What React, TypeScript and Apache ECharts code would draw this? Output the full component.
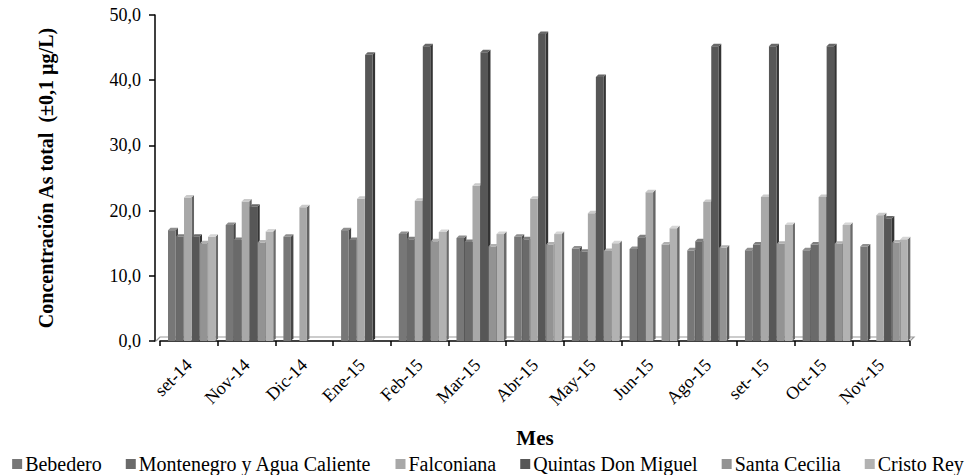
import React, { useEffect, useRef } from "react";
import * as echarts from "echarts";

const categories = ["set-14", "Nov-14", "Dic-14", "Ene-15", "Feb-15", "Mar-15", "Abr-15", "May-15", "Jun-15", "Ago-15", "set- 15", "Oct-15", "Nov-15"];

const seriesNames = ["Bebedero", "Montenegro y Agua Caliente", "Falconiana", "Quintas Don Miguel", "Santa Cecilia", "Cristo Rey"];

const bebedero = [17.0, 17.8, 16.0, 17.0, 16.4, 15.8, 16.0, 14.2, 14.1, 13.9, 13.9, 13.9, 14.5];
const montenegro = [16.0, 15.5, null, 15.5, 15.6, 15.2, 15.6, 13.7, 15.9, 15.3, 14.8, 14.8, null];
const falconiana = [22.0, 21.4, 20.5, 21.8, 21.5, 23.8, 21.8, 19.6, 22.8, 21.3, 22.1, 22.1, 19.3];
const quintas = [16.0, 20.6, null, 43.9, 45.2, 44.3, 47.1, 40.5, null, 45.2, 45.2, 45.2, 18.8];
const santaCecilia = [15.0, 15.1, null, null, 15.3, 14.5, 14.8, 13.8, 14.8, 14.3, 14.9, 14.9, 15.1];
const cristoRey = [16.0, 16.8, null, null, 16.7, 16.4, 16.4, 15.0, 17.3, null, 17.8, 17.8, 15.6];

const seriesValues = [bebedero, montenegro, falconiana, quintas, santaCecilia, cristoRey];
const colors = ["#777777", "#6a6a6a", "#a8a8a8", "#575757", "#939393", "#b2b2b2"];

const FONT = "'Liberation Serif', 'Times New Roman', serif";

function shade(hex: string, k: number) {
  const n = parseInt(hex.slice(1), 16);
  const f = (c: number) => Math.max(0, Math.min(255, Math.round(c * k)));
  const r = f((n >> 16) & 255), g = f((n >> 8) & 255), b = f(n & 255);
  return `rgb(${r},${g},${b})`;
}

export default function App() {
  const ref = useRef<HTMLDivElement>(null);
  useEffect(() => {
    if (!ref.current) return;
    const chart = echarts.init(ref.current, undefined, { renderer: "svg" });
    const nCat = categories.length;

    const barSeries = seriesValues.map((vals, si) => ({
      name: seriesNames[si],
      type: "custom",
      itemStyle: { color: colors[si] },
      z: 3,
      data: vals.map((v, j) => [j, v == null ? "-" : v]),
      renderItem: (params: any, api: any) => {
        const cat = api.value(0);
        const val = api.value(1);
        if (isNaN(val)) return null;
        const top = api.coord([cat, val]);
        const base = api.coord([cat, 0]);
        const bandW = api.size([1, 0])[0];
        const slot = bandW * 0.1387;
        const start = top[0] - bandW / 2 + bandW * 0.139;
        const d = 2.5;
        const x0 = start + si * slot;
        const w = slot - 0.5;
        const y = top[1];
        const b = base[1];
        const c = colors[si];
        return {
          type: "group",
          children: [
            {
              type: "polygon",
              shape: { points: [[x0 + w, y], [x0 + w + d, y - d], [x0 + w + d, b - d], [x0 + w, b]] },
              style: { fill: shade(c, 0.6) },
            },
            {
              type: "rect",
              shape: { x: x0, y: y, width: w, height: b - y },
              style: { fill: c },
            },
            {
              type: "polygon",
              shape: { points: [[x0, y], [x0 + d, y - d], [x0 + w + d, y - d], [x0 + w, y]] },
              style: { fill: shade(c, 1.2) },
            },
          ],
        };
      },
    }));

    const floorSeries = {
      name: "floor",
      type: "custom",
      silent: true,
      z: 1,
      data: [[0, 0]],
      renderItem: (params: any, api: any) => {
        const p = api.coord([0, 0]);
        const bandW = api.size([1, 0])[0];
        const left = p[0] - bandW / 2;
        const right = left + nCat * bandW;
        const b = p[1];
        const d = 4;
        return {
          type: "polyline",
          shape: { points: [[left - 4, b], [left - 4 + d, b - d], [right + d, b - d], [right, b]] },
          style: { stroke: "#9a9a9a", lineWidth: 1.2, fill: null },
        };
      },
    };

    chart.setOption({
      animation: false,
      textStyle: { fontFamily: FONT },
      grid: { left: 160, right: 66, top: 15, bottom: 134 },
      legend: {
        data: seriesNames.map((n, i) => ({ name: n, itemStyle: { color: colors[i] } })),
        icon: "rect",
        itemWidth: 10,
        itemHeight: 10,
        itemGap: 24,
        left: "center",
        bottom: 1,
        padding: 0,
        textStyle: { fontFamily: FONT, fontSize: 20, color: "#000", padding: [0, 0, 0, -2] },
      },
      xAxis: {
        type: "category",
        data: categories,
        name: "Mes",
        nameLocation: "middle",
        nameGap: 86,
        nameTextStyle: { fontFamily: FONT, fontSize: 21, fontWeight: "bold", color: "#000" },
        axisLine: { lineStyle: { color: "#000", width: 1.5 } },
        axisTick: { show: true, length: 5, lineStyle: { color: "#000", width: 1.5 } },
        axisLabel: { rotate: 45, fontSize: 18, color: "#000", fontFamily: FONT, margin: 21, interval: 0 },
      },
      yAxis: {
        type: "value",
        min: 0,
        max: 50,
        interval: 10,
        offset: 5,
        name: "Concentración As total  (±0,1 µg/L)",
        nameLocation: "middle",
        nameGap: 99,
        nameTextStyle: { fontFamily: FONT, fontSize: 20, fontWeight: "bold", color: "#000" },
        axisLine: { show: true, lineStyle: { color: "#000", width: 1.5 } },
        axisTick: { show: true, length: 6, lineStyle: { color: "#000", width: 1.5 } },
        splitLine: { show: false },
        axisLabel: {
          fontSize: 18,
          color: "#000",
          fontFamily: FONT,
          margin: 14,
          formatter: (v: number) => v.toFixed(1).replace(".", ","),
        },
      },
      series: [floorSeries, ...barSeries],
    });
    return () => chart.dispose();
  }, []);
  return <div ref={ref} style={{ position: "absolute", left: 0, top: 0, width: 976, height: 475 }} />;
}
